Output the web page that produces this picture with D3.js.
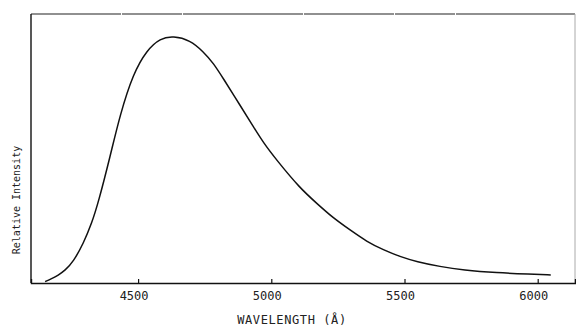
<!DOCTYPE html>
<html>
<head>
<meta charset="utf-8">
<script src="https://cdn.jsdelivr.net/npm/d3@7"></script>
<style>
  html, body { margin: 0; padding: 0; background: #fff; }
  svg { display: block; }
  text { font-family: "DejaVu Sans Mono", "Liberation Mono", monospace; fill: #222; }
</style>
</head>
<body>
<svg id="chart" width="576" height="326"></svg>
<script>
// Emission spectrum
const wavelength = [4151, 4175, 4200, 4225, 4257, 4295, 4326, 4351, 4395, 4432, 4482, 4533, 4583, 4632, 4695, 4745, 4783, 4820, 4883, 4933, 4970, 5020, 5108, 5171, 5233, 5296, 5358, 5421, 5483, 5546, 5633, 5721, 5846, 5971, 6049];
const intensity  = [0.5, 1.6, 2.9, 4.6, 7.9, 14.8, 22.2, 30.0, 47.0, 62.5, 78.0, 86.6, 91.0, 91.8, 90.3, 86.0, 81.7, 76.0, 66.0, 58.1, 52.2, 45.7, 35.2, 29.6, 24.1, 19.7, 15.4, 12.3, 9.8, 7.9, 6.1, 4.8, 3.8, 3.3, 3.0];
const xTicks = [4500, 5000, 5500, 6000];
const xLabel = "WAVELENGTH (Å)";
const yLabel = "Relative Intensity";

(function () {
const svg = d3.select("#chart");
const mL = 31, mR = 575, mT = 14, mB = 283;

const x = d3.scaleLinear().domain([4098, 6140]).range([mL, mR]);
const y = d3.scaleLinear().domain([0, 100]).range([mB, mT]);

// frame
svg.append("line").attr("x1", mL).attr("x2", mR).attr("y1", mT).attr("y2", mT)
  .attr("stroke", "#222").attr("stroke-width", 1.2).attr("stroke-dasharray", "90,1,60,1,120,1");
svg.append("line").attr("x1", mL).attr("x2", mL).attr("y1", mT).attr("y2", mB)
  .attr("stroke", "#111").attr("stroke-width", 1.4);
svg.append("line").attr("x1", mR).attr("x2", mR).attr("y1", mT).attr("y2", mB)
  .attr("stroke", "#aaa").attr("stroke-width", 1);

// x axis with inward ticks
const xAxis = d3.axisTop(x).tickValues(xTicks).tickSize(4).tickFormat("");
const gx = svg.append("g").attr("transform", `translate(0,${mB})`).call(xAxis);
gx.select(".domain").attr("stroke", "#111").attr("stroke-width", 1.4);
gx.selectAll(".tick line").attr("stroke", "#111").attr("stroke-width", 1.2);

svg.append("g").selectAll("text").data(xTicks).join("text")
  .attr("x", d => x(d) - 4).attr("y", 300)
  .attr("text-anchor", "middle").attr("font-size", 12)
  .text(d => d);

svg.append("text").attr("x", 292).attr("y", 324).attr("text-anchor", "middle")
  .attr("font-size", 12).attr("letter-spacing", 0.6).text(xLabel);

svg.append("text").attr("transform", "translate(20,200) rotate(-90)")
  .attr("text-anchor", "middle").attr("font-size", 10).text(yLabel);

// curve
const line = d3.line().x((d, i) => x(wavelength[i])).y(d => y(d)).curve(d3.curveBasis);
svg.append("path").datum(intensity).attr("d", line)
  .attr("fill", "none").attr("stroke", "#111").attr("stroke-width", 1.5);
})();
</script>
</body>
</html>
